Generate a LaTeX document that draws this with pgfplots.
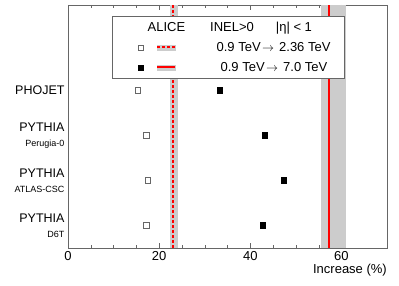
\documentclass[border=0pt]{standalone}
\usepackage{fontspec}
\setmainfont{Liberation Sans}
\usepackage{pgfplots}
\pgfplotsset{compat=1.18}
\definecolor{band}{RGB}{204,204,204}
\definecolor{axgray}{RGB}{102,102,102}
\begin{document}
\begin{tikzpicture}
\begin{axis}[name=ax, scale only axis, width=319bp, height=243bp,
  xmin=0, xmax=70, ymin=0.5, ymax=5.9,
  xtick={0,20,40,60}, minor x tick num=3,
  xtick pos=both, tick align=inside,
  major tick length=5bp, minor tick length=3bp,
  ytick={1,2,3,4},
  yticklabels={{PYTHIA\\[1bp]{\fontsize{9bp}{10bp}\selectfont D6T}},
               {PYTHIA\\[1bp]{\fontsize{9bp}{10bp}\selectfont ATLAS-CSC}},
               {PYTHIA\\[1bp]{\fontsize{9bp}{10bp}\selectfont Perugia-0}},
               {PHOJET}},
  yticklabel style={align=right, font=\fontsize{12.5bp}{14bp}\selectfont},
  y tick style={draw=none},
  xticklabel style={font=\fontsize{13bp}{15bp}\selectfont},
  /pgf/number format/assume math mode=true,
  axis line style={axgray},
  every tick/.append style={axgray},
  xlabel={Increase (\%)},
  xlabel style={at={(rel axis cs:1,0)}, anchor=north east, yshift=-16bp, inner sep=0pt,
                font=\fontsize{13bp}{15bp}\selectfont},
  legend style={at={(rel axis cs:0.138,0.955)}, anchor=north west, draw=axgray, fill=white,
                font=\fontsize{13bp}{15bp}\selectfont, legend cell align=left,
                column sep=29bp, row sep=5.5bp, inner xsep=12bp, inner ysep=3.5bp},
]
% header
\addlegendimage{empty legend}
\addlegendentry{\hspace*{-69bp}ALICE\hspace{25bp}INEL>0\hspace{22bp}|η| < 1}
\addlegendimage{legend image code/.code={
  \path (-16bp,0);
  \draw[draw=none, mark=square, mark size=2.6bp, mark options={draw=black!60, fill=white, solid}] plot coordinates {(0bp,0bp)};
  \fill[band] (17bp,-2.5bp) rectangle (35bp,2.5bp);
  \draw[draw=red, line width=1.8bp, dash pattern=on 3bp off 2bp] (17bp,0bp) -- (35bp,0bp);
  \path (45bp,0);
}}
\addlegendentry{0.9 TeV\hspace{1.5bp}$\rightarrow$\hspace{5bp}2.36 TeV}
\addlegendimage{legend image code/.code={
  \path (-16bp,0);
  \draw[draw=none, mark=square*, mark size=2.6bp, mark options={draw=black, fill=black}] plot coordinates {(0bp,0bp)};
  \fill[band] (17bp,-2.5bp) rectangle (35bp,2.5bp);
  \draw[draw=red, line width=1.8bp] (17bp,0bp) -- (35bp,0bp);
  \path (45bp,0);
}}
\addlegendentry{\hspace*{4bp}0.9 TeV\hspace{1.5bp}$\rightarrow$\hspace{5bp}7.0 TeV}

% bands
\addplot[fill=band, draw=none, forget plot] coordinates {(22.3,0.5) (24.2,0.5) (24.2,5.9) (22.3,5.9)} -- cycle;
\addplot[fill=band, draw=none, forget plot] coordinates {(55.6,0.5) (61.0,0.5) (61.0,5.9) (55.6,5.9)} -- cycle;
\addplot[red, line width=1.8bp, dash pattern=on 3bp off 2bp, forget plot] coordinates {(23.1,0.5) (23.1,5.9)};
\addplot[red, line width=1.8bp, forget plot] coordinates {(57.3,0.5) (57.3,5.9)};

% models
\addplot[only marks, mark=square, mark size=2.8bp, mark options={draw=black!60, fill=white}, forget plot]
  coordinates {(15.3,4) (17.1,3) (17.5,2) (17.1,1)};
\addplot[only marks, mark=square*, mark size=2.8bp, mark options={draw=black, fill=black}, forget plot]
  coordinates {(33.3,4) (43.2,3) (47.3,2) (42.7,1)};
\end{axis}
\pgfresetboundingbox
\path[use as bounding box] ([shift={(-68bp,-38bp)}]ax.south west) rectangle ([shift={(12bp,5bp)}]ax.north east);
\end{tikzpicture}
\end{document}
